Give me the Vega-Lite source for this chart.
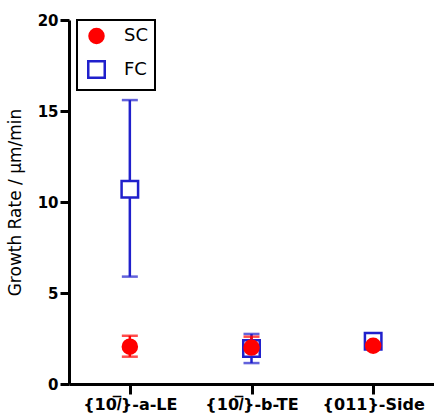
{
  "$schema": "https://vega.github.io/schema/vega-lite/v6.json",
  "autosize": "none",
  "padding": {"left": 69, "top": 20, "right": 0, "bottom": 34},
  "width": 365,
  "height": 364,
  "background": "white",
  "data": {"values": [
    {"face": "{10𝑙̅}-a-LE", "series": "FC", "mean": 10.7, "lo": 5.9, "hi": 15.6},
    {"face": "{10𝑙̅}-b-TE", "series": "FC", "mean": 1.95, "lo": 1.15, "hi": 2.75},
    {"face": "{011}-Side", "series": "FC", "mean": 2.35, "lo": 2.1, "hi": 2.6},
    {"face": "{10𝑙̅}-a-LE", "series": "SC", "mean": 2.05, "lo": 1.5, "hi": 2.65},
    {"face": "{10𝑙̅}-b-TE", "series": "SC", "mean": 2.0, "lo": 1.55, "hi": 2.6},
    {"face": "{011}-Side", "series": "SC", "mean": 2.1, "lo": 2.0, "hi": 2.2}
  ]},
  "encoding": {
    "x": {"field": "face", "type": "nominal", "sort": null,
      "scale": {"type": "point", "padding": 0.5},
      "axis": {"title": null, "labelAngle": 0, "labelFont": "DejaVu Sans", "labelFontSize": 16, "labelFontWeight": "bold", "labelColor": "black", "domainColor": "black", "domainWidth": 3, "ticks": true, "tickColor": "black", "tickWidth": 3, "tickSize": 10, "tickOpacity": 1, "tickCap": "butt", "labelPadding": 2, "zindex": 1}}
  },
  "layer": [
    {
      "mark": {"type": "rule", "strokeWidth": 2.5},
      "encoding": {
        "y": {"field": "lo", "type": "quantitative",
          "scale": {"domain": [0, 20], "nice": false},
          "axis": {"title": "Growth Rate / μm/min", "titleFont": "DejaVu Sans", "titleFontSize": 17, "titleFontWeight": "normal", "titleColor": "black", "titlePadding": 13,
            "values": [0, 5, 10, 15, 20],
            "labelFont": "DejaVu Sans", "labelFontSize": 15, "labelFontWeight": "bold", "labelColor": "black", "labelPadding": 2, "labelOverlap": false,
            "domainColor": "black", "domainWidth": 3, "ticks": true, "tickColor": "black", "tickOpacity": 1, "tickWidth": 3, "tickSize": 9, "tickCap": "butt",
            "grid": false, "zindex": 1}},
        "y2": {"field": "hi"},
        "stroke": {"condition": {"test": "datum.series === 'SC'", "value": "#ff0000"}, "value": "#2020cc"}
      }
    },
    {
      "mark": {"type": "tick", "thickness": 2.5, "size": 16},
      "encoding": {
        "y": {"field": "lo", "type": "quantitative"},
        "color": {"condition": {"test": "datum.series === 'SC'", "value": "#ff0000"}, "value": "#2020cc"}
      }
    },
    {
      "mark": {"type": "tick", "thickness": 2.5, "size": 16},
      "encoding": {
        "y": {"field": "hi", "type": "quantitative"},
        "color": {"condition": {"test": "datum.series === 'SC'", "value": "#ff0000"}, "value": "#2020cc"}
      }
    },
    {
      "mark": {"type": "point", "opacity": 1, "strokeWidth": 2.5},
      "encoding": {
        "y": {"field": "mean", "type": "quantitative"},
        "shape": {"field": "series", "type": "nominal", "scale": {"domain": ["SC", "FC"], "range": ["circle", "square"]}, "title": null},
        "size": {"field": "series", "type": "nominal", "scale": {"domain": ["SC", "FC"], "range": [196, 272]}, "title": null},
        "fill": {"field": "series", "type": "nominal", "scale": {"domain": ["SC", "FC"], "range": ["#ff0000", "white"]}, "title": null},
        "stroke": {"field": "series", "type": "nominal", "scale": {"domain": ["SC", "FC"], "range": ["#ff0000", "#2020cc"]}, "title": null},
        "order": {"field": "series", "sort": "ascending"}
      }
    }
  ],
  "config": {
    "view": {"stroke": null},
    "legend": {
      "orient": "none", "legendX": 8, "legendY": 0,
      "strokeColor": "black", "strokeWidth": 2, "fillColor": "white",
      "padding": 7, "symbolOffset": 3, "symbolStrokeWidth": 2.5,
      "labelFont": "DejaVu Sans", "labelFontSize": 18, "labelColor": "black",
      "labelExpr": "datum.label + '  '",
      "rowPadding": 8, "labelOffset": 18, "symbolOpacity": 1
    }
  }
}
